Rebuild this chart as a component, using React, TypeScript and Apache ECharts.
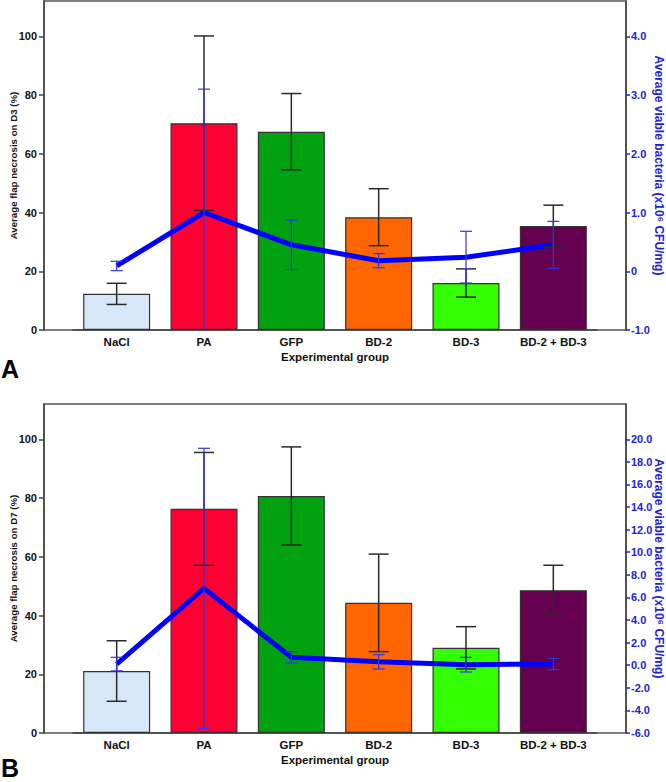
import React, { useEffect, useRef } from "react";
import * as echarts from "echarts";

const categories = ["NaCl", "PA", "GFP", "BD-2", "BD-3", "BD-2 + BD-3"];
const barColors = ["#d5e7f9", "#ff0033", "#00a30f", "#ff6600", "#33ff00", "#650050"];

const necrosisD3 = [12.3, 70.4, 67.5, 38.4, 16.0, 35.4];
const necrosisD3Err = [3.6, 29.7, 13.0, 9.7, 4.8, 7.1];
const bacteriaD3 = [0.09, 1.0, 0.45, 0.18, 0.24, 0.45];
const bacteriaD3Err = [0.08, 2.1, 0.42, 0.12, 0.44, 0.4];

const necrosisD7 = [21.1, 76.3, 80.7, 44.3, 29.0, 48.6];
const necrosisD7Err = [10.3, 19.2, 16.7, 16.6, 7.2, 8.5];
const bacteriaD7 = [0.1, 6.8, 0.7, 0.3, 0.05, 0.1];
const bacteriaD7Err = [0.6, 12.4, 0.5, 0.63, 0.65, 0.5];

const leftTicks = [0, 20, 40, 60, 80, 100];
const rightTicksD3 = [-1, 0, 1, 2, 3, 4];
const rightTicksD7 = [-6, -4, -2, 0, 2, 4, 6, 8, 10, 12, 14, 16, 18, 20];

const FONT = "'Liberation Sans', Arial, sans-serif";
const BLUE_TEXT = "#2323d2";
const AXIS_COLOR = "#444";

function errData(means: number[], errs: number[]) {
  return means.map((m, i) => [i, m - errs[i], m + errs[i]]);
}

function errSeries(xi: number, yi: number, data: number[][], color: string, width: number, cap: number, z: number) {
  return {
    type: "custom",
    xAxisIndex: xi,
    yAxisIndex: yi,
    clip: true,
    z,
    encode: { x: 0, y: [1, 2] },
    data,
    renderItem: (params: any, api: any) => {
      const x = api.value(0);
      const lo = api.coord([x, api.value(1)]);
      const hi = api.coord([x, api.value(2)]);
      const style = { stroke: color, lineWidth: width };
      return {
        type: "group",
        children: [
          { type: "line", shape: { x1: lo[0], y1: lo[1], x2: hi[0], y2: hi[1] }, style },
          { type: "line", shape: { x1: hi[0] - cap / 2, y1: hi[1], x2: hi[0] + cap / 2, y2: hi[1] }, style },
          { type: "line", shape: { x1: lo[0] - cap / 2, y1: lo[1], x2: lo[0] + cap / 2, y2: lo[1] }, style },
        ],
      };
    },
  };
}

export default function App() {
  const ref = useRef<HTMLDivElement>(null);
  useEffect(() => {
    const chart = echarts.init(ref.current!, null, { renderer: "svg" });
    const panels = [
      { top: 1, leftName: "Average flap necrosis on D3 (%)", rMin: -1, rMax: 4.6, rTicks: rightTicksD3, fmt: (v: number) => (v === 0 ? "0" : v.toFixed(1)), nec: necrosisD3, necErr: necrosisD3Err, bac: bacteriaD3, bacErr: bacteriaD3Err },
      { top: 404, leftName: "Average flap necrosis on D7 (%)", rMin: -6, rMax: 23.12, rTicks: rightTicksD7, fmt: (v: number) => v.toFixed(1), nec: necrosisD7, necErr: necrosisD7Err, bac: bacteriaD7, bacErr: bacteriaD7Err },
    ];
    const grid: any[] = [];
    const xAxis: any[] = [];
    const yAxis: any[] = [];
    const series: any[] = [];
    panels.forEach((p, k) => {
      const gMain = k * 2;
      const gFrame = k * 2 + 1;
      grid.push({ left: 73, width: 524, top: p.top, height: 329, outerBoundsMode: "none", containLabel: false });
      grid.push({ left: 44, width: 582, top: p.top, height: 329, outerBoundsMode: "none", containLabel: false, show: true, borderColor: "#555", borderWidth: 1.5, backgroundColor: "transparent" });
      xAxis.push({
        type: "category",
        gridIndex: gMain,
        data: categories,
        axisLine: { show: true, lineStyle: { color: AXIS_COLOR, width: 1.5 } },
        axisTick: { show: false },
        axisLabel: { color: "#111", fontWeight: "bold", fontSize: 11.5, fontFamily: FONT, margin: 6, interval: 0 },
        name: "Experimental group",
        nameLocation: "middle",
        nameGap: 21,
        nameMoveOverlap: false,
        nameTextStyle: { color: "#111", fontWeight: "bold", fontSize: 11.5, fontFamily: FONT },
      });
      xAxis.push({ type: "value", gridIndex: gFrame, show: false, min: 0, max: 1 });
      const yLeftIdx = yAxis.length;
      yAxis.push({
        type: "value",
        gridIndex: gMain,
        position: "left",
        offset: 29,
        min: 0,
        max: 112,
        splitLine: { show: false },
        axisLine: { show: true, lineStyle: { color: AXIS_COLOR, width: 1.5 } },
        axisTick: { show: true, length: 5, customValues: leftTicks, lineStyle: { color: AXIS_COLOR, width: 1.5 } },
        axisLabel: { customValues: leftTicks, color: "#111", fontWeight: "bold", fontSize: 11, fontFamily: FONT, margin: 7 },
        name: p.leftName,
        nameLocation: "middle",
        nameGap: 26,
        nameMoveOverlap: false,
        nameTextStyle: { color: "#111", fontWeight: "bold", fontSize: 9.7, fontFamily: FONT },
      });
      const yRightIdx = yAxis.length;
      yAxis.push({
        type: "value",
        gridIndex: gMain,
        position: "right",
        offset: 29,
        min: p.rMin,
        max: p.rMax,
        splitLine: { show: false },
        axisLine: { show: true, lineStyle: { color: AXIS_COLOR, width: 1.5 } },
        axisTick: { show: true, length: 4, customValues: p.rTicks, lineStyle: { color: BLUE_TEXT, width: 1.5 } },
        axisLabel: { customValues: p.rTicks, formatter: p.fmt, color: BLUE_TEXT, fontWeight: "bold", fontSize: 11, fontFamily: FONT, margin: 5 },
        name: "Average viable bacteria (x10⁶ CFU/mg)",
        nameLocation: "middle",
        nameRotate: -90,
        nameGap: 27,
        nameMoveOverlap: false,
        nameTextStyle: { color: BLUE_TEXT, fontWeight: "bold", fontSize: 12, fontFamily: FONT },
      });
      yAxis.push({ type: "value", gridIndex: gFrame, show: false, min: 0, max: 1 });

      series.push({
        type: "bar",
        xAxisIndex: gMain,
        yAxisIndex: yLeftIdx,
        barWidth: 67,
        z: 2,
        data: p.nec.map((v, i) => ({ value: v, itemStyle: { color: barColors[i], borderColor: "#333", borderWidth: 1.2 } })),
      });
      series.push({
        type: "line",
        xAxisIndex: gMain,
        yAxisIndex: yRightIdx,
        data: p.bac,
        showSymbol: false,
        symbol: "none",
        z: 3,
        lineStyle: { color: "#0000ff", width: 5 },
      });
      series.push(errSeries(gMain, yLeftIdx, errData(p.nec, p.necErr), "#2a2a2a", 1.5, 20, 4));
      series.push(errSeries(gMain, yRightIdx, errData(p.bac, p.bacErr), "#3434e0", 1.2, 12, 5));
    });

    chart.setOption({
      animation: false,
      backgroundColor: "#ffffff",
      grid,
      xAxis,
      yAxis,
      series,
      graphic: [
        { type: "text", left: 1, top: 356, style: { text: "A", fontSize: 25, fontWeight: "bold", fontFamily: FONT, fill: "#000" } },
        { type: "text", left: 1, top: 755, style: { text: "B", fontSize: 25, fontWeight: "bold", fontFamily: FONT, fill: "#000" } },
      ],
    });
    return () => chart.dispose();
  }, []);
  return <div ref={ref} style={{ position: "absolute", left: 0, top: 0, width: 666, height: 782 }} />;
}
